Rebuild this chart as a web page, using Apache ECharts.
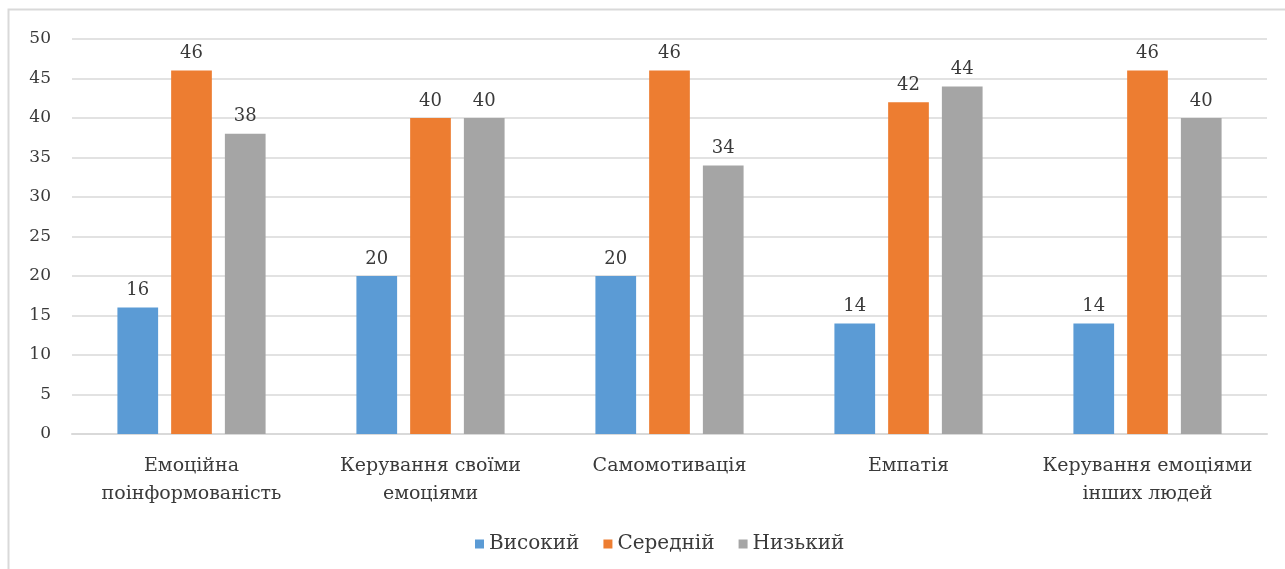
<!DOCTYPE html>
<html>
<head>
<meta charset="utf-8">
<script src="https://cdn.jsdelivr.net/npm/echarts@6/dist/echarts.min.js"></script>
<style>
  html, body { margin: 0; padding: 0; background: #fff; }
  #chart { width: 1285px; height: 569px; }
</style>
</head>
<body>
<div id="chart"></div>
<script>
// Components of emotional intelligence by level
const categories = [
  'Емоційна\nпоінформованість',
  'Керування своїми\nемоціями',
  'Самомотивація',
  'Емпатія',
  'Керування емоціями\nінших людей'
];
const seriesNames = ['Високий', 'Середній', 'Низький'];
const high = [16, 20, 20, 14, 14];
const medium = [46, 40, 46, 42, 46];
const low = [38, 40, 34, 44, 40];
const yTicks = { min: 0, max: 50, interval: 5 };

const colors = ['#5b9bd5', '#ed7d31', '#a5a5a5'];
const serif = '"DejaVu Serif", "Liberation Serif", serif';
const textColor = '#3a3a3a';

const chart = echarts.init(document.getElementById('chart'), null, { renderer: 'canvas' });

function makeSeries(name, data) {
  return {
    name: name,
    type: 'bar',
    data: data,
    barGap: '32%',
    barCategoryGap: '38%',
    label: {
      show: true,
      position: 'top',
      distance: 8,
      fontFamily: serif,
      fontSize: 18,
      color: textColor
    }
  };
}

chart.setOption({
  animation: false,
  color: colors,
  graphic: [{
    type: 'rect',
    shape: { x: 8.5, y: 9.5, width: 1300, height: 600 },
    style: { fill: 'none', stroke: '#d9d9d9', lineWidth: 2 },
    silent: true,
    z: -1
  }],
  grid: { left: 72, right: 18, top: 39, bottom: 135, containLabel: false },
  legend: {
    data: seriesNames,
    bottom: 10,
    left: 470,
    itemWidth: 9,
    itemHeight: 9,
    itemGap: 24,
    icon: 'rect',
    textStyle: { fontFamily: serif, fontSize: 20, color: textColor }
  },
  xAxis: {
    type: 'category',
    data: categories,
    axisLine: { lineStyle: { color: '#d9d9d9', width: 2 } },
    axisTick: { show: false },
    axisLabel: {
      fontFamily: serif,
      fontSize: 19,
      color: textColor,
      lineHeight: 28,
      margin: 18,
      interval: 0
    }
  },
  yAxis: {
    type: 'value',
    min: yTicks.min,
    max: yTicks.max,
    interval: yTicks.interval,
    axisLine: { show: false },
    axisTick: { show: false },
    axisLabel: {
      fontFamily: serif,
      fontSize: 17,
      color: textColor,
      margin: 21
    },
    splitLine: { lineStyle: { color: '#d9d9d9', width: 1.5 } }
  },
  series: [
    makeSeries(seriesNames[0], high),
    makeSeries(seriesNames[1], medium),
    makeSeries(seriesNames[2], low)
  ]
});
</script>
</body>
</html>
